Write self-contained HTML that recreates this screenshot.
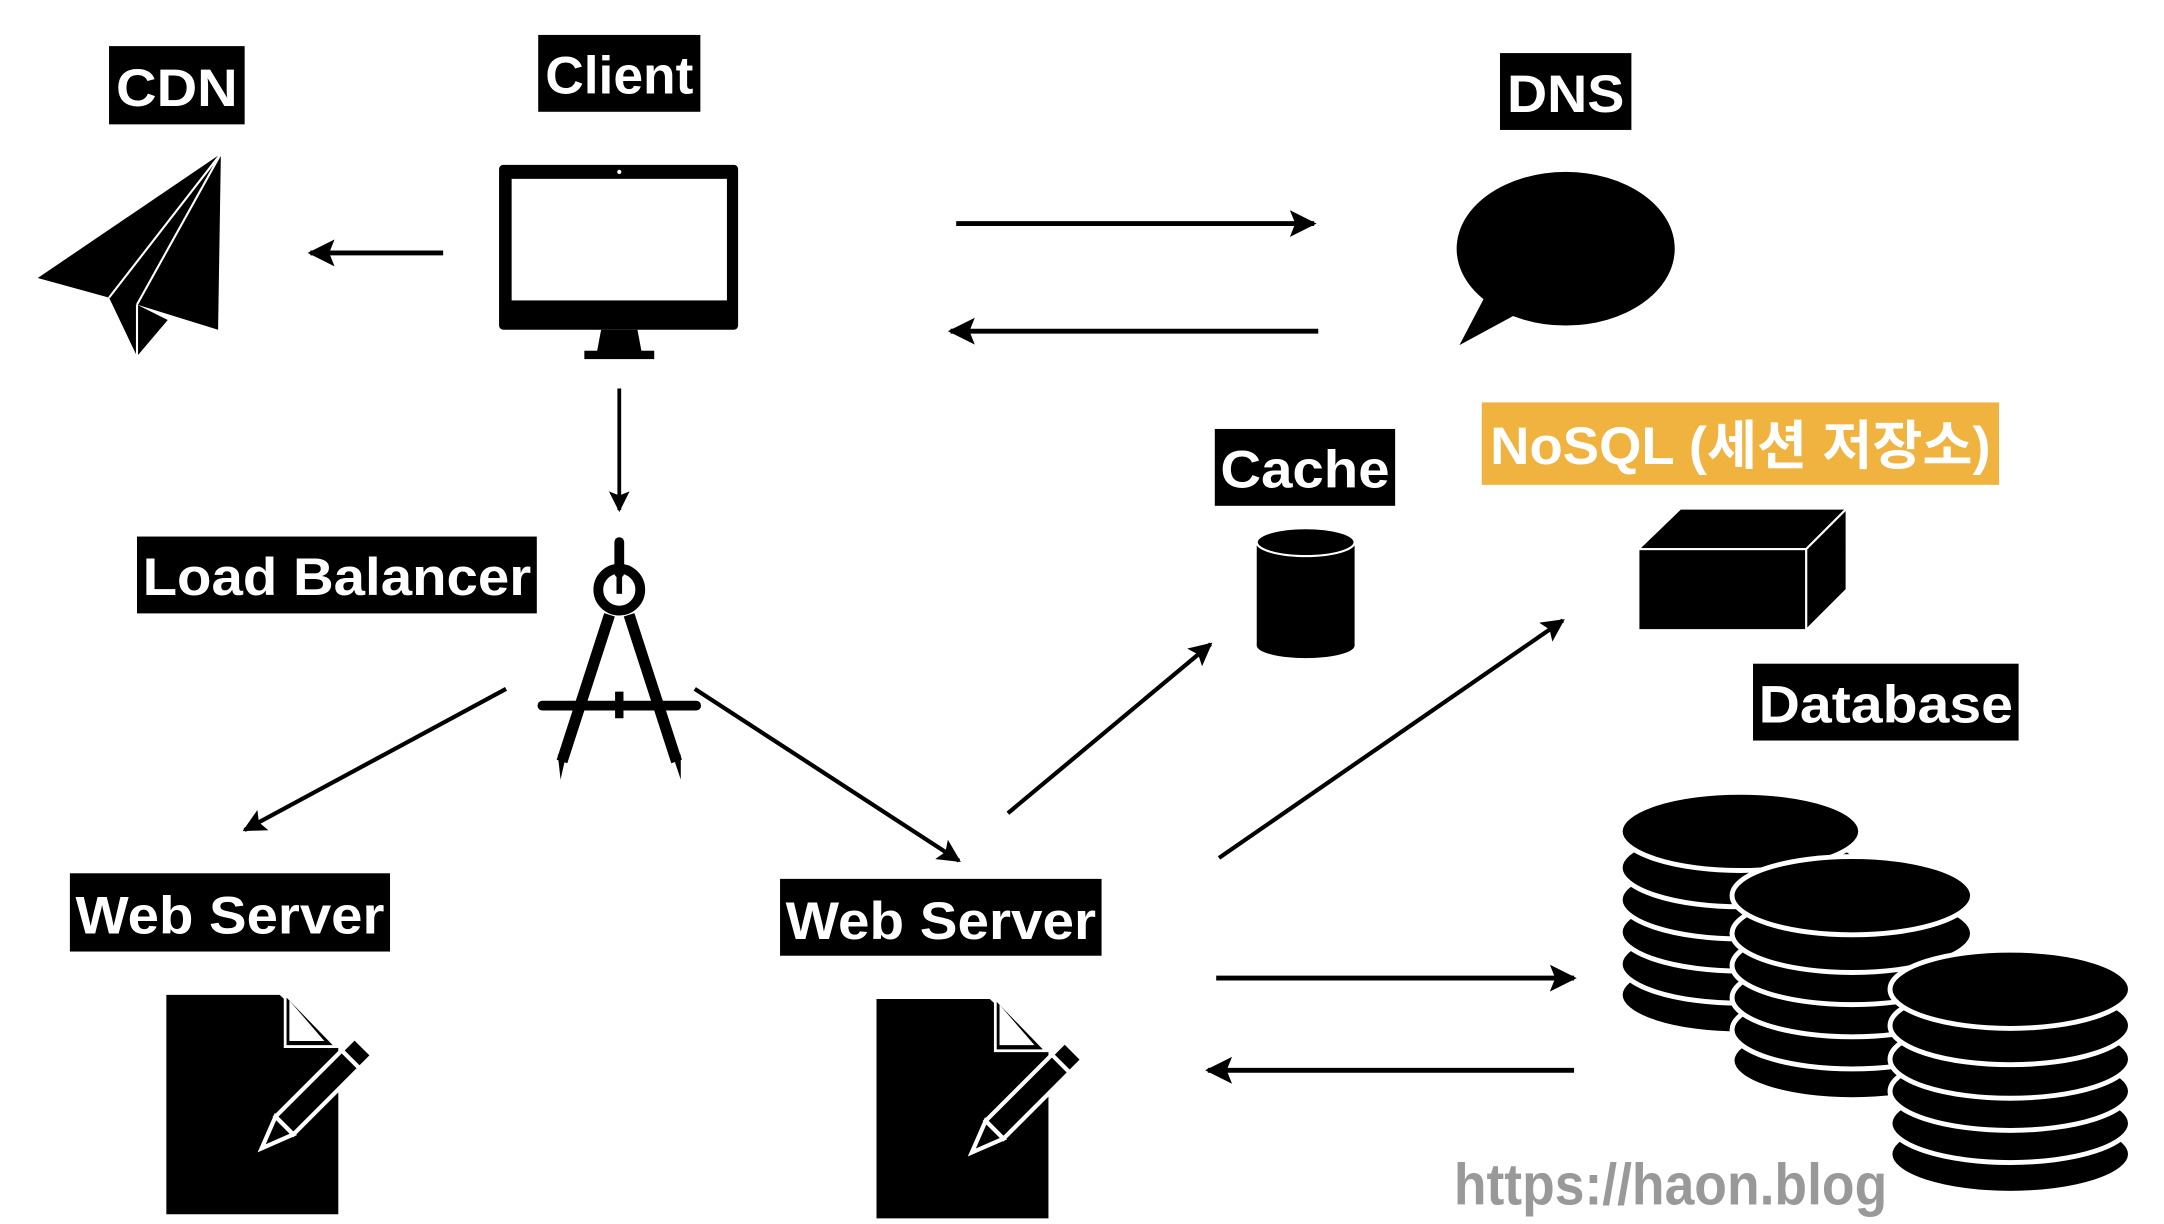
<!DOCTYPE html>
<html><head><meta charset="utf-8"><style>
html,body{margin:0;padding:0;background:#fff;}
svg{display:block;}
.lbl{font-family:"Liberation Sans","Noto Sans CJK KR",sans-serif;font-size:38px;font-weight:bold;fill:#fff;}
</style></head><body>
<svg width="2164" height="1224" viewBox="0 0 1548 876" preserveAspectRatio="none" xmlns="http://www.w3.org/2000/svg">
<defs>
<marker id="ah" viewBox="0 0 10 10" refX="9" refY="5" markerWidth="5.5" markerHeight="5.5" orient="auto" markerUnits="strokeWidth">
<path d="M0,0 L10,5 L0,10 L2,5 z" fill="#000"/>
</marker>
</defs>
<rect width="1548" height="876" fill="#fff"/>
<rect x="78" y="33" width="97" height="56" fill="#000"/><text class="lbl" x="126.5" y="76" text-anchor="middle" textLength="87" lengthAdjust="spacingAndGlyphs">CDN</text>
<rect x="385" y="25" width="116" height="55" fill="#000"/><text class="lbl" x="443" y="67" text-anchor="middle" textLength="106" lengthAdjust="spacingAndGlyphs">Client</text>
<rect x="1073" y="38" width="94" height="55" fill="#000"/><text class="lbl" x="1120" y="80" text-anchor="middle" textLength="84" lengthAdjust="spacingAndGlyphs">DNS</text>
<rect x="869" y="307" width="129" height="55" fill="#000"/><text class="lbl" x="933.5" y="349" text-anchor="middle" textLength="121" lengthAdjust="spacingAndGlyphs">Cache</text>
<rect x="1060" y="288" width="370" height="59" fill="#F0B33F"/><text class="lbl" x="1245" y="332" text-anchor="middle" textLength="358" lengthAdjust="spacingAndGlyphs">NoSQL (세션 저장소)</text>
<rect x="98" y="384" width="286" height="55" fill="#000"/><text class="lbl" x="241" y="426" text-anchor="middle" textLength="278" lengthAdjust="spacingAndGlyphs">Load Balancer</text>
<rect x="50" y="625" width="229" height="56" fill="#000"/><text class="lbl" x="164.5" y="668" text-anchor="middle" textLength="221" lengthAdjust="spacingAndGlyphs">Web Server</text>
<rect x="558" y="629" width="230" height="55" fill="#000"/><text class="lbl" x="673" y="672" text-anchor="middle" textLength="222" lengthAdjust="spacingAndGlyphs">Web Server</text>
<rect x="1254" y="475" width="190" height="55" fill="#000"/><text class="lbl" x="1349" y="517" text-anchor="middle" textLength="182" lengthAdjust="spacingAndGlyphs">Database</text>

<g stroke="#000" stroke-width="3.5" fill="none" marker-end="url(#ah)">
<line x1="317" y1="181" x2="222" y2="181"/>
<line x1="684" y1="160" x2="940" y2="160"/>
<line x1="943" y1="237" x2="680" y2="237"/>
<line x1="443" y1="278" x2="443" y2="365" stroke-width="2.7"/>
<line x1="362" y1="493" x2="175" y2="594" stroke-width="3"/>
<line x1="497" y1="493" x2="686" y2="616" stroke-width="3"/>
<line x1="721" y1="582" x2="866" y2="461" stroke-width="3"/>
<line x1="872" y1="614" x2="1118" y2="444" stroke-width="3"/>
<line x1="870" y1="700" x2="1126" y2="700"/>
<line x1="1126" y1="766" x2="864" y2="766"/>
</g>

<polygon points="27,199 158,110 156,236 98,218 120,229 98,255 78,213" fill="#000"/>
<line x1="158" y1="110" x2="78" y2="213" stroke="#fff" stroke-width="1.5"/>
<line x1="158" y1="110" x2="98" y2="218" stroke="#fff" stroke-width="1.5"/>
<line x1="98" y1="218" x2="98" y2="255" stroke="#fff" stroke-width="1.5"/>

<rect x="357" y="118" width="171" height="118" rx="3" fill="#000"/>
<rect x="366" y="128" width="154" height="87" fill="#fff"/>
<circle cx="443" cy="123" r="1.5" fill="#fff"/>
<polygon points="430,236 456,236 459,252 427,252" fill="#000"/>
<rect x="418" y="251" width="50" height="6" fill="#000"/>

<ellipse cx="1120" cy="178" rx="78" ry="55" fill="#000"/>
<polygon points="1066,205 1044,247 1090,222" fill="#000"/>

<line x1="443" y1="388" x2="443" y2="410" stroke="#000" stroke-width="7" stroke-linecap="round"/>
<circle cx="443" cy="422" r="15" fill="none" stroke="#000" stroke-width="7"/>
<line x1="443" y1="412" x2="443" y2="425" stroke="#000" stroke-width="4"/>
<line x1="436" y1="440" x2="402" y2="545" stroke="#000" stroke-width="8"/>
<line x1="450" y1="440" x2="484" y2="545" stroke="#000" stroke-width="8"/>
<polygon points="399,540 405,540 401,558" fill="#000"/>
<polygon points="481,540 487,540 487,558" fill="#000"/>
<line x1="388" y1="505" x2="498" y2="505" stroke="#000" stroke-width="7" stroke-linecap="round"/>
<line x1="443" y1="495" x2="443" y2="514" stroke="#000" stroke-width="6"/>

<rect x="899" y="388" width="70" height="74" fill="#000"/>
<ellipse cx="934" cy="462" rx="35" ry="9" fill="#000"/>
<ellipse cx="934" cy="388" rx="35" ry="10" fill="#000" stroke="#fff" stroke-width="1.5"/>

<polygon points="1172,393 1202,364 1321,364 1292,393" fill="#000" stroke="#fff" stroke-width="1.5"/>
<polygon points="1292,393 1321,364 1321,422 1292,451" fill="#000" stroke="#fff" stroke-width="1.5"/>
<rect x="1172" y="393" width="120" height="58" fill="#000" stroke="#fff" stroke-width="1.5"/>

<g id="doc1">
<polygon points="119,712 200,712 242,750 242,869 119,869" fill="#000"/>
<polygon points="203,712 242,750 203,750" fill="#fff"/>
<polygon points="205,714 238,748 205,748" fill="#000"/>
<polygon points="207,716 232,745 207,745" fill="#fff"/>
<g transform="translate(219,790) rotate(45)">
<rect x="-9" y="-58" width="18" height="80" fill="#000" stroke="#fff" stroke-width="3"/>
<line x1="-9" y1="-45" x2="9" y2="-45" stroke="#fff" stroke-width="3"/>
<polygon points="-9,22 9,22 0,45" fill="#000" stroke="#fff" stroke-width="3"/>
</g>
</g>
<use href="#doc1" transform="translate(508,3)"/>

<g fill="#000" stroke="#fff" stroke-width="3.5">
<ellipse cx="1245" cy="712" rx="86" ry="28"/>
<ellipse cx="1245" cy="690" rx="86" ry="28"/>
<ellipse cx="1245" cy="667" rx="86" ry="28"/>
<ellipse cx="1245" cy="644" rx="86" ry="28"/>
<ellipse cx="1245" cy="621" rx="86" ry="28"/>
<ellipse cx="1245" cy="595" rx="86" ry="28"/>

<ellipse cx="1325" cy="759" rx="86" ry="28"/>
<ellipse cx="1325" cy="737" rx="86" ry="28"/>
<ellipse cx="1325" cy="714" rx="86" ry="28"/>
<ellipse cx="1325" cy="691" rx="86" ry="28"/>
<ellipse cx="1325" cy="668" rx="86" ry="28"/>
<ellipse cx="1325" cy="641" rx="86" ry="28"/>

<ellipse cx="1438" cy="826" rx="86" ry="28"/>
<ellipse cx="1438" cy="804" rx="86" ry="28"/>
<ellipse cx="1438" cy="781" rx="86" ry="28"/>
<ellipse cx="1438" cy="758" rx="86" ry="28"/>
<ellipse cx="1438" cy="734" rx="86" ry="28"/>
<ellipse cx="1438" cy="708" rx="86" ry="28"/>
</g>

<text x="1040" y="862" font-family="Liberation Sans, sans-serif" font-weight="bold" font-size="42" fill="#999" textLength="310" lengthAdjust="spacingAndGlyphs">https://haon.blog</text>
</svg>
</body></html>
